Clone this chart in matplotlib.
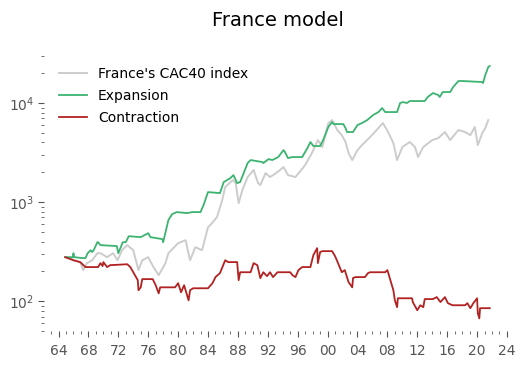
import matplotlib
matplotlib.use("Agg")
import matplotlib.pyplot as plt
from matplotlib.ticker import FixedLocator, FuncFormatter

# ---- data ----
cac_years = [1964.9, 1965.2, 1966.0, 1966.9, 1967.3, 1967.8, 1968.5, 1969.2, 1969.6, 1970.5,
             1971.3, 1971.9, 1972.5, 1973.2, 1974.0, 1974.7, 1975.2, 1976.0, 1976.7, 1977.4,
             1978.3, 1978.7, 1980.0, 1981.0, 1981.6, 1982.3, 1983.2, 1984.0, 1984.3, 1985.2,
             1985.9, 1986.3, 1987.3, 1987.7, 1988.1, 1988.6, 1989.3, 1990.1, 1990.7, 1991.0,
             1991.7, 1992.3, 1993.3, 1994.1, 1994.7, 1995.7, 1997.0, 1997.9, 1998.7, 1999.3,
             2000.1, 2000.6, 2001.3, 2001.9, 2002.4, 2002.8, 2003.3, 2004.0, 2004.6, 2005.7,
             2006.8, 2007.4, 2008.1, 2008.8, 2009.3, 2010.0, 2011.0, 2011.7, 2012.1, 2012.8,
             2014.0, 2014.8, 2015.7, 2016.4, 2017.5, 2018.4, 2019.1, 2019.7, 2020.1, 2020.7,
             2021.1, 2021.5]
cac_values = [278, 278, 259, 248, 206, 242, 259, 305, 305, 278,
              305, 259, 327, 368, 327, 206, 259, 278, 221, 183,
              242, 305, 385, 413, 259, 351, 327, 559, 586, 705,
              1047, 1418, 1667, 1556, 977, 1322, 1790, 2105, 1556, 1485,
              1963, 1790, 2010, 2258, 1874, 1790, 2364, 3125, 4230, 3595,
              6280, 6730, 5340, 4750, 4040, 3125, 2657, 3350, 3765, 4540,
              5590, 6280, 5095, 3945, 2657, 3595, 4040, 3595, 2850, 3595,
              4230, 4430, 5095, 4230, 5340, 5095, 4750, 5730, 3765, 4980,
              5590, 6730]

exp_years = [1964.9, 1965.9, 1966.0, 1966.1, 1967.3, 1967.6, 1967.9, 1968.3, 1968.5, 1968.7,
             1969.2, 1969.3, 1969.6, 1971.8, 1972.0, 1972.6, 1973.0, 1973.4, 1975.0, 1976.0,
             1976.3, 1977.9, 1978.0, 1978.7, 1979.2, 1979.8, 1981.2, 1981.9, 1983.0, 1983.4,
             1984.0, 1985.6, 1986.1, 1987.0, 1987.4, 1987.9, 1988.3, 1989.3, 1989.7, 1991.3,
             1991.4, 1992.1, 1992.6, 1993.4, 1994.1, 1994.3, 1994.7, 1995.3, 1996.6, 1997.3,
             1997.7, 1998.1, 1999.0, 1999.4, 2000.1, 2000.6, 2000.8, 2002.1, 2002.4, 2002.6,
             2003.4, 2004.0, 2004.6, 2005.3, 2006.1, 2006.8, 2007.3, 2007.7, 2009.3, 2009.7,
             2010.1, 2010.6, 2011.0, 2013.0, 2013.4, 2014.1, 2014.8, 2015.0, 2015.4, 2016.4,
             2016.8, 2017.5, 2018.1, 2020.7, 2020.8, 2021.1, 2021.5, 2021.7]
exp_values = [278, 278, 305, 278, 272, 272, 305, 327, 313, 327,
              394, 394, 368, 360, 305, 394, 394, 453, 443, 486,
              443, 423, 394, 658, 756, 793, 774, 793, 793, 933,
              1262, 1233, 1592, 1748, 1874, 1556, 1592, 2477, 2657, 2535,
              2477, 2718, 2657, 2850, 3350, 3200, 2783, 2850, 2850, 3510,
              4040, 3680, 3680, 4230, 5730, 6430, 6135, 6135, 5590, 5095,
              5095, 5995, 6280, 6730, 7570, 8110, 8900, 8110, 8110, 10000,
              10230, 10000, 10480, 10480, 11500, 12620, 12050, 11500, 12910, 12910,
              14510, 16680, 16680, 16300, 15920, 19190, 23100, 23650]

con_years = [1964.9, 1966.0, 1966.9, 1967.6, 1969.3, 1969.6, 1969.9, 1970.0, 1970.5, 1970.9,
             1973.2, 1973.6, 1974.0, 1974.6, 1974.7, 1975.0, 1975.2, 1976.6, 1977.0, 1977.4,
             1977.6, 1977.9, 1979.6, 1980.0, 1980.4, 1980.8, 1981.4, 1981.6, 1982.0, 1984.0,
             1984.6, 1985.0, 1985.6, 1986.3, 1986.7, 1987.9, 1988.1, 1988.3, 1989.7, 1990.1,
             1990.6, 1991.0, 1991.4, 1991.9, 1992.3, 1992.7, 1993.3, 1995.0, 1995.3, 1995.7,
             1996.1, 1996.6, 1997.7, 1998.1, 1998.6, 1998.7, 1999.0, 1999.3, 2000.6, 2001.0,
             2001.4, 2001.9, 2002.3, 2002.8, 2003.3, 2003.4, 2003.7, 2005.0, 2005.4, 2005.7,
             2007.7, 2008.0, 2008.4, 2008.8, 2009.0, 2009.3, 2009.4, 2011.3, 2011.4, 2012.0,
             2012.4, 2012.8, 2013.0, 2014.1, 2014.6, 2015.1, 2015.7, 2016.1, 2016.7, 2018.4,
             2018.7, 2019.1, 2019.5, 2020.0, 2020.1, 2020.3, 2020.4, 2021.7]
con_values = [278, 259, 248, 221, 221, 242, 226, 248, 221, 231,
              236, 221, 196, 163, 129, 138, 167, 167, 145, 120,
              138, 138, 138, 152, 123, 145, 102, 129, 135, 135,
              152, 175, 192, 259, 248, 248, 163, 196, 196, 242,
              231, 171, 196, 179, 196, 175, 196, 196, 183, 175,
              206, 221, 221, 292, 343, 242, 313, 320, 320, 285,
              242, 196, 206, 156, 138, 171, 175, 175, 192, 196,
              196, 206, 163, 129, 102, 87, 107, 107, 98, 81,
              91, 87, 105, 105, 110, 98, 110, 95.5, 91, 91,
              95.5, 85, 95.5, 107, 75.6, 67, 85, 85]

series_labels = ["France's CAC40 index", "Expansion", "Contraction"]
series_colors = ["#cccccc", "#3cb371", "#b22222"]
x_major_years = list(range(1964, 2025, 4))
x_minor_years = list(range(1963, 2025, 1))

# ---- figure ----
fig = plt.figure(figsize=(5.26, 3.66), dpi=100)
ax = fig.add_axes([0.0837, 0.0956, 0.8878, 0.7585])

ax.plot(cac_years, cac_values, color=series_colors[0], lw=1.4, label=series_labels[0])
ax.plot(exp_years, exp_values, color=series_colors[1], lw=1.3, label=series_labels[1])
ax.plot(con_years, con_values, color=series_colors[2], lw=1.3, label=series_labels[2])

ax.set_yscale("log")
ax.set_xlim(1962.06, 2024.54)
ax.set_ylim(50, 31700)

ax.xaxis.set_major_locator(FixedLocator(x_major_years))
ax.xaxis.set_minor_locator(FixedLocator(x_minor_years))
ax.xaxis.set_major_formatter(FuncFormatter(lambda v, p: f"{int(round(v)) % 100:02d}"))

for s in ax.spines.values():
    s.set_visible(False)

ax.tick_params(axis="both", which="major", direction="out", length=4, width=0.8,
               color="#555555", labelcolor="#555555", labelsize=10)
ax.tick_params(axis="both", which="minor", direction="out", length=2, width=0.6,
               color="#555555")
ax.tick_params(axis="x", which="both", pad=5)
ax.tick_params(axis="y", which="major", pad=3)

ax.set_title("France model", fontsize=14, pad=20)

leg = ax.legend(loc="upper left", frameon=False, fontsize=10, handlelength=2.0,
                labelspacing=0.55, borderaxespad=0.3, bbox_to_anchor=(0.011, 0.985))

fig.savefig("out.png", dpi=100)
